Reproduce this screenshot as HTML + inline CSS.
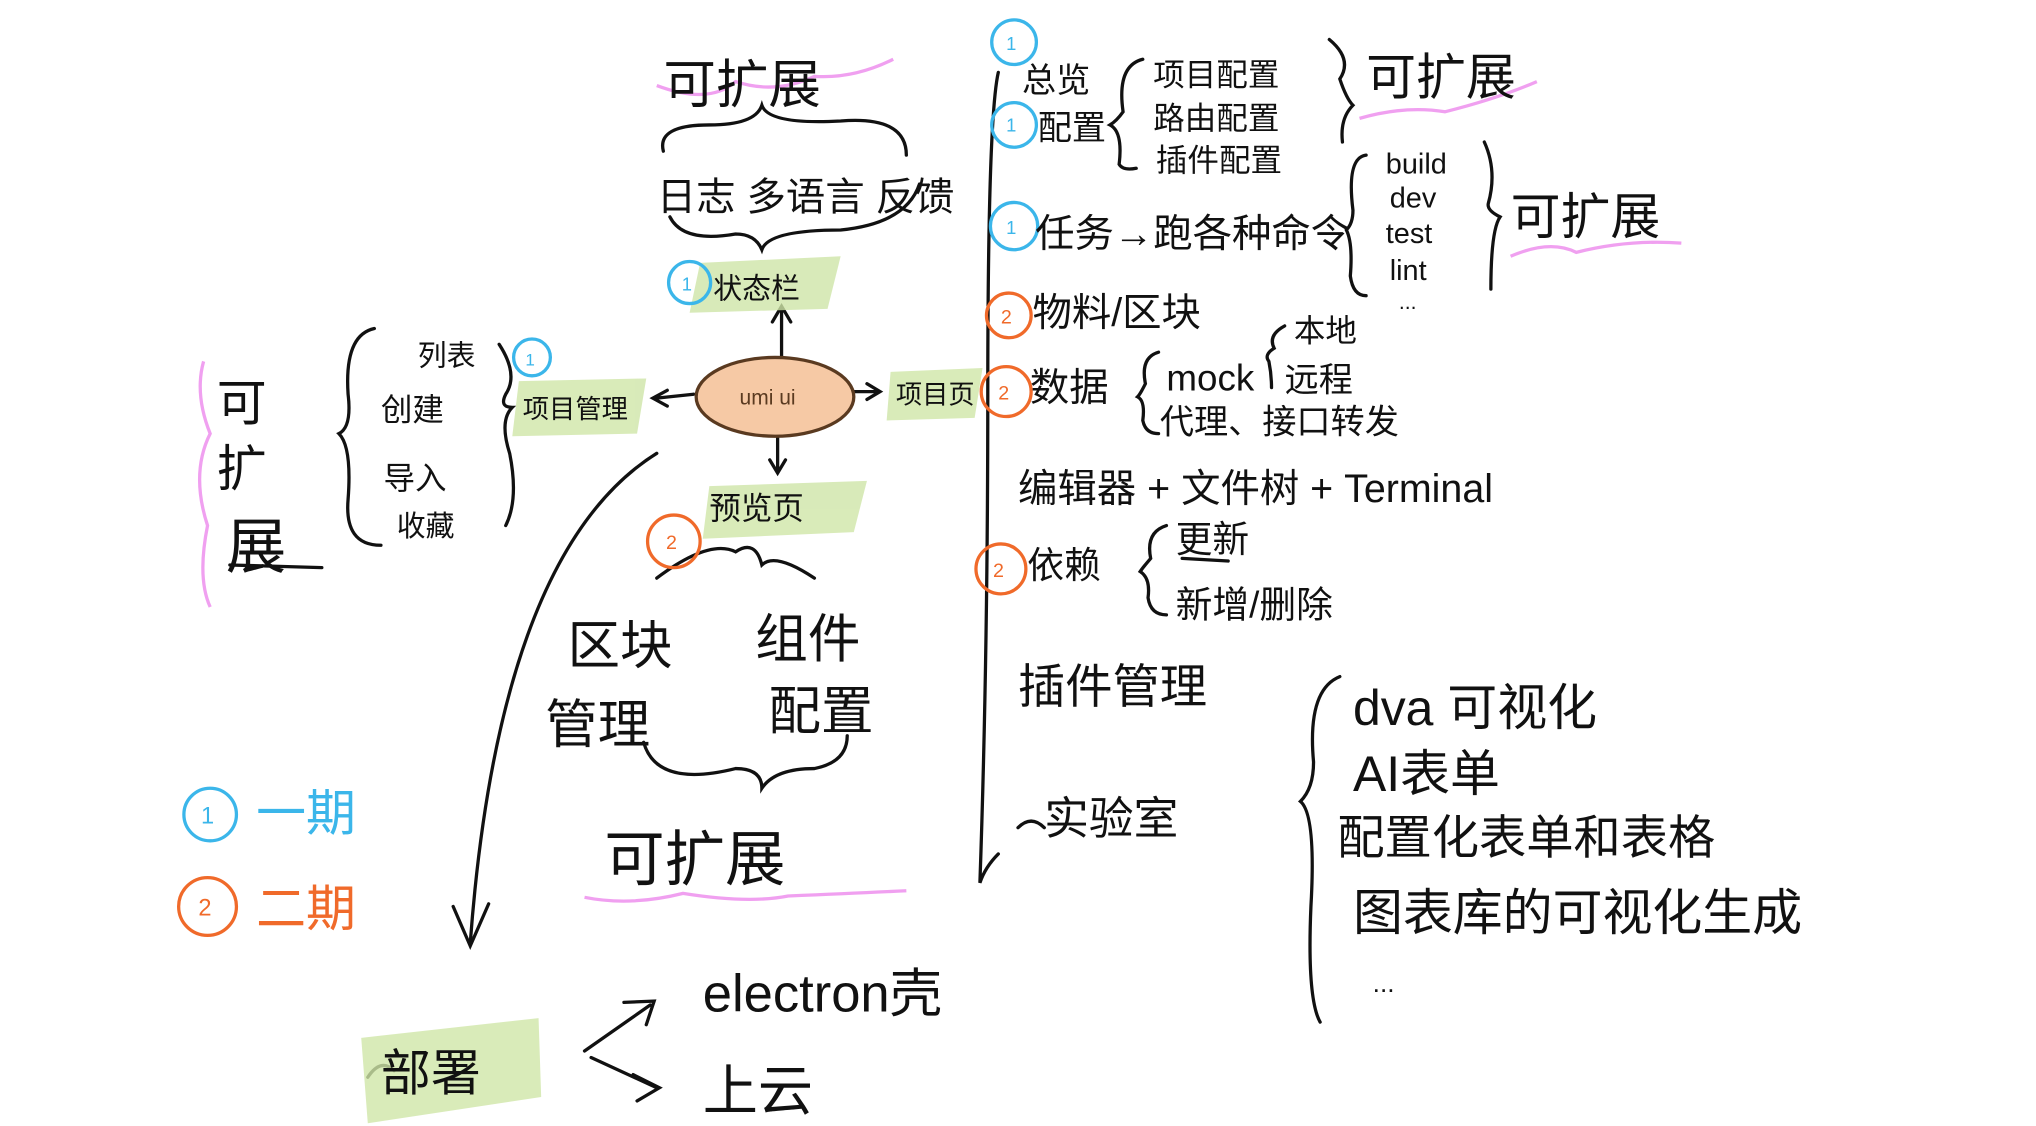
<!DOCTYPE html>
<html><head><meta charset="utf-8"><style>
html,body{margin:0;padding:0;background:#fff;}
svg{display:block}
text{font-family:"Liberation Sans","Noto Sans CJK SC",sans-serif;fill:#111;}
</style></head><body>
<svg width="2036" height="1126" viewBox="0 0 1550 857" xmlns="http://www.w3.org/2000/svg">
<g fill="none" stroke="#111" stroke-width="2.5" stroke-linecap="round">
<!-- top brace -->
<path d="M505,115 Q500,95 540,95 Q575,95 580,80 Q585,95 640,92 Q690,88 690,118"/>
<path d="M510,165 Q520,185 560,178 Q575,178 580,190 Q585,175 640,175 Q690,170 700,140"/>
<path d="M595,275 L595,235 M588,245 L595,233 L602,245"/>
<!-- arrows from umi -->
<path d="M650,298 L668,298 M660,292 L670,298 L660,304"/>
<path d="M528,300 L500,303 M508,297 L497,303 L508,309"/>
<path d="M592,333 L592,358 M586,350 L592,360 L598,350"/>
<!-- left brace -->
<path d="M285,250 Q262,255 265,300 Q268,325 258,330 Q268,340 265,380 Q262,415 290,415"/>
<path d="M380,262 Q395,285 385,300 Q380,310 390,310 Q380,320 388,345 Q395,380 385,400"/>
<path d="M175,430 L245,432"/>
<!-- preview brace -->
<path d="M500,440 Q540,410 560,420 Q575,410 580,430 Q590,420 620,440"/>
<!-- bottom brace -->
<path d="M490,565 Q500,600 560,585 Q580,585 580,600 Q590,585 620,585 Q645,580 645,560"/>
<!-- big curved arrow -->
<path d="M500,345 Q380,420 358,718"/>
<path d="M345,690 L358,720 L372,688"/>
<!-- deploy arrows -->
<path d="M445,800 L495,765 M475,763 L498,762 L492,780"/>
<path d="M450,805 L500,828 M482,818 L502,828 L485,838"/>
<!-- vertical line -->
<path d="M760,55 Q752,90 752,300 Q752,500 746,672 Q750,660 760,650"/>
<!-- config braces -->
<path d="M870,45 Q850,50 855,85 Q850,92 845,95 Q855,100 852,125 Q855,130 865,128"/>
<path d="M1012,30 Q1030,45 1020,60 Q1025,75 1030,80 Q1020,90 1022,108"/>
<path d="M1040,118 Q1025,120 1030,160 Q1030,170 1025,175 Q1030,185 1028,210 Q1030,225 1040,225"/>
<path d="M1130,108 Q1140,130 1133,155 Q1132,160 1142,165 Q1135,175 1135,220"/>
<path d="M882,268 Q868,272 872,292 Q868,300 866,302 Q872,305 870,320 Q872,330 882,330"/>
<path d="M978,248 Q965,255 970,265 Q962,270 966,275 Q968,285 968,295"/>
<path d="M888,400 Q872,405 876,425 Q870,432 868,435 Q876,440 874,455 Q876,468 888,468"/>
<path d="M1020,515 Q995,525 1000,580 Q1000,600 990,610 Q1002,620 998,690 Q995,760 1005,778"/>
<path d="M775,630 Q785,620 795,630"/>
<path d="M900,425 L935,427"/>
<path d="M280,820 Q290,805 300,815"/>
</g>
<!-- highlights -->
<g fill="#cfe6a8" opacity="0.8">
<path d="M533,200 L640,195 L630,235 L525,238 Z"/>
<path d="M395,290 L492,288 L485,330 L390,332 Z"/>
<path d="M678,283 L748,280 L742,318 L675,320 Z"/>
<path d="M540,370 L660,366 L650,405 L535,410 Z"/>
<path d="M275,790 L410,775 L412,835 L280,855 Z"/>
</g>
<ellipse cx="590" cy="302" rx="60" ry="30" fill="#f6c9a5" stroke="#5a3a20" stroke-width="2.5"/>
<!-- pink wavy -->
<g fill="none" stroke="#f0a0f0" stroke-width="2.5">
<path d="M500,65 Q540,80 560,62 Q590,72 620,58 Q650,60 680,45"/>
<path d="M1035,90 Q1070,80 1100,85 Q1140,75 1170,62"/>
<path d="M1150,195 Q1180,182 1200,192 Q1240,182 1280,185"/>
<path d="M155,275 Q148,300 160,330 Q145,360 158,400 Q150,440 160,462"/>
<path d="M445,683 Q480,690 520,680 Q570,688 600,682 Q650,680 690,678"/>
</g>
<!-- circles -->
<g fill="none" stroke-width="2.5">
<circle cx="772" cy="32" r="17" stroke="#3bb6ea"/><text x="766" y="38" font-size="14" style="fill:#3bb6ea">1</text>
<circle cx="772" cy="95" r="17" stroke="#3bb6ea"/><text x="766" y="100" font-size="14" style="fill:#3bb6ea">1</text>
<circle cx="772" cy="172" r="18" stroke="#3bb6ea"/><text x="766" y="178" font-size="14" style="fill:#3bb6ea">1</text>
<circle cx="525" cy="215" r="16" stroke="#3bb6ea"/><text x="519" y="221" font-size="14" style="fill:#3bb6ea">1</text>
<circle cx="405" cy="272" r="14" stroke="#3bb6ea"/><text x="400" y="278" font-size="13" style="fill:#3bb6ea">1</text>
<circle cx="160" cy="620" r="20" stroke="#3bb6ea"/><text x="153" y="627" font-size="18" style="fill:#3bb6ea">1</text>
<circle cx="768" cy="240" r="17" stroke="#f06a2a"/><text x="762" y="246" font-size="15" style="fill:#f06a2a">2</text>
<circle cx="766" cy="298" r="19" stroke="#f06a2a"/><text x="760" y="304" font-size="15" style="fill:#f06a2a">2</text>
<circle cx="762" cy="433" r="19" stroke="#f06a2a"/><text x="756" y="439" font-size="15" style="fill:#f06a2a">2</text>
<circle cx="513" cy="412" r="20" stroke="#f06a2a"/><text x="507" y="418" font-size="15" style="fill:#f06a2a">2</text>
<circle cx="158" cy="690" r="22" stroke="#f06a2a"/><text x="151" y="697" font-size="18" style="fill:#f06a2a">2</text>
</g>
<!-- texts -->
<text x="505" y="78" font-size="40">可扩展</text>
<text x="500" y="160" font-size="30">日志 多语言 反馈</text>
<text x="543" y="227" font-size="22">状态栏</text>
<text x="563" y="308" font-size="16" style="fill:#5a3a20">umi ui</text>
<text x="682" y="307" font-size="20">项目页</text>
<text x="398" y="318" font-size="20">项目管理</text>
<text x="318" y="278" font-size="22">列表</text>
<text x="290" y="320" font-size="24">创建</text>
<text x="292" y="372" font-size="24">导入</text>
<text x="302" y="408" font-size="22">收藏</text>
<text x="165" y="320" font-size="38">可</text>
<text x="165" y="370" font-size="38">扩</text>
<text x="172" y="432" font-size="46">展</text>
<text x="540" y="395" font-size="24">预览页</text>
<text x="432" y="505" font-size="40">区块</text>
<text x="575" y="500" font-size="40">组件</text>
<text x="415" y="565" font-size="40">管理</text>
<text x="585" y="555" font-size="40">配置</text>
<text x="460" y="670" font-size="46">可扩展</text>
<text x="195" y="632" font-size="38" style="fill:#3bb6ea">一期</text>
<text x="195" y="705" font-size="38" style="fill:#f06a2a">二期</text>
<text x="290" y="830" font-size="38">部署</text>
<text x="535" y="770" font-size="40">electron壳</text>
<text x="535" y="845" font-size="42">上云</text>
<text x="778" y="70" font-size="26">总览</text>
<text x="790" y="106" font-size="26">配置</text>
<text x="878" y="65" font-size="24">项目配置</text>
<text x="878" y="98" font-size="24">路由配置</text>
<text x="880" y="130" font-size="24">插件配置</text>
<text x="1040" y="72" font-size="38">可扩展</text>
<text x="788" y="188" font-size="30">任务→跑各种命令</text>
<text x="1055" y="132" font-size="22">build</text>
<text x="1058" y="158" font-size="22">dev</text>
<text x="1055" y="185" font-size="22">test</text>
<text x="1058" y="213" font-size="22">lint</text>
<text x="1065" y="235" font-size="16">...</text>
<text x="1150" y="178" font-size="38">可扩展</text>
<text x="786" y="248" font-size="30">物料/区块</text>
<text x="784" y="305" font-size="30">数据</text>
<text x="888" y="297" font-size="28">mock</text>
<text x="985" y="260" font-size="24">本地</text>
<text x="978" y="298" font-size="26">远程</text>
<text x="883" y="330" font-size="26">代理、接口转发</text>
<text x="775" y="382" font-size="30">编辑器 + 文件树 + Terminal</text>
<text x="782" y="440" font-size="28">依赖</text>
<text x="895" y="420" font-size="28">更新</text>
<text x="895" y="470" font-size="28">新增/删除</text>
<text x="775" y="535" font-size="36">插件管理</text>
<text x="795" y="635" font-size="34">实验室</text>
<text x="1030" y="552" font-size="38">dva 可视化</text>
<text x="1030" y="602" font-size="38">AI表单</text>
<text x="1018" y="650" font-size="36">配置化表单和表格</text>
<text x="1030" y="708" font-size="38">图表库的可视化生成</text>
<text x="1045" y="755" font-size="20">...</text>
</svg>
</body></html>
